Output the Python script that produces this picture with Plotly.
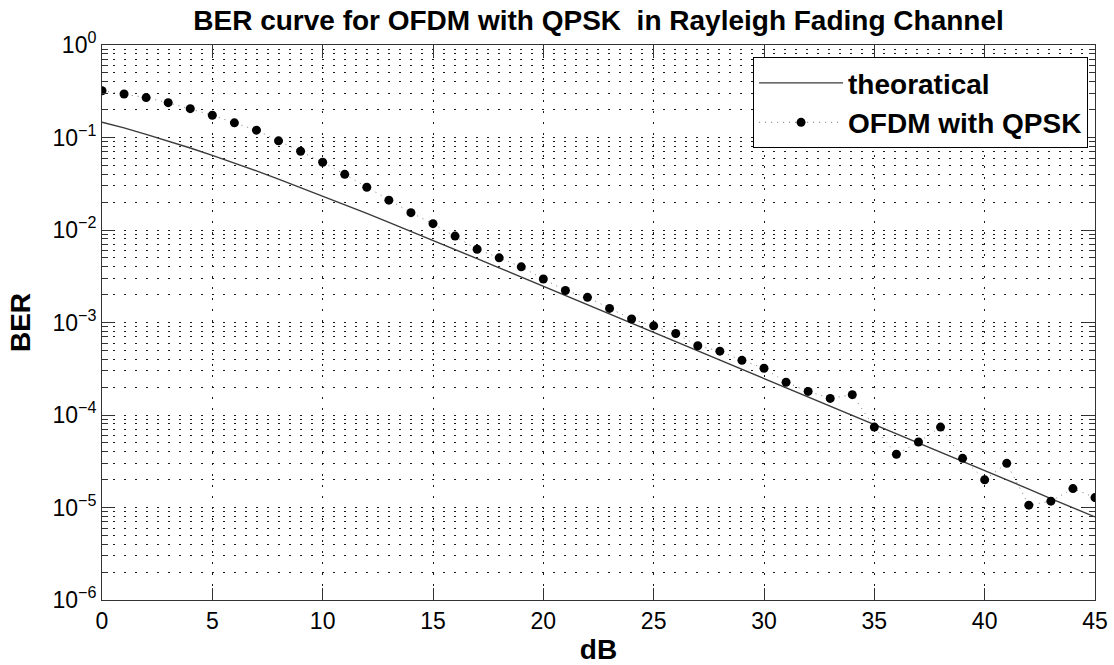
import plotly.graph_objects as go

# ---- data ----
snr_db = list(range(46))

ber_theory = [0.146, 0.127, 0.108, 0.092, 0.077, 0.064, 0.053, 0.0435, 0.0355, 0.0288,
              0.0233, 0.0187, 0.0151, 0.0121, 0.0097, 0.0077, 0.0062, 0.0049, 0.0039, 0.0031,
              0.0025, 0.00197, 0.00157, 0.00125, 0.00099, 0.00079, 0.00063, 0.0005, 0.0004, 0.000315,
              0.00025, 0.000198, 0.000158, 0.000125, 0.0000995, 0.000079, 0.0000628, 0.0000499, 0.0000396, 0.0000315,
              0.000025, 0.0000199, 0.0000158, 0.0000125, 0.00000995, 0.0000079]

ber_ofdm = [0.32, 0.295, 0.27, 0.238, 0.205, 0.174, 0.144, 0.12, 0.092, 0.071,
            0.054, 0.040, 0.029, 0.021, 0.0154, 0.0117, 0.0086, 0.0062, 0.0050, 0.0040,
            0.00295, 0.00222, 0.00187, 0.00142, 0.00109, 0.00092, 0.00076, 0.00056, 0.00049, 0.00039,
            0.00032, 0.000226, 0.00018, 0.000151, 0.000166, 0.000074, 0.0000376, 0.000051, 0.000074, 0.000034,
            0.0000199, 0.000030, 0.0000106, 0.0000117, 0.000016, 0.0000128]

x_ticks = [0, 5, 10, 15, 20, 25, 30, 35, 40, 45]
y_tickvals = [1, 1e-1, 1e-2, 1e-3, 1e-4, 1e-5, 1e-6]
y_ticktext = ["10<sup>0</sup>", "10<sup>\u22121</sup>", "10<sup>\u22122</sup>", "10<sup>\u22123</sup>",
              "10<sup>\u22124</sup>", "10<sup>\u22125</sup>", "10<sup>\u22126</sup>"]

title_text = "BER curve for OFDM with QPSK \u00a0in Rayleigh Fading Channel"

FONT = "Liberation Sans, Arial, sans-serif"
GRID_DASH = "2px,9px"
GRID_COLOR = "#1a1a1a"

fig = go.Figure()
fig.add_trace(go.Scatter(
    x=snr_db, y=ber_theory, mode="lines", name="theoratical",
    line=dict(color="#3a3a3a", width=1.4),
))
fig.add_trace(go.Scatter(
    x=snr_db, y=ber_ofdm, mode="lines+markers", name="OFDM with QPSK",
    line=dict(color="#7a7a7a", width=1, dash="1px,5px"),
    marker=dict(color="black", size=9, symbol="circle"),
))

fig.update_layout(
    width=1114, height=665,
    margin=dict(l=102, r=19, t=45, b=65),
    paper_bgcolor="white", plot_bgcolor="white",
    font=dict(family=FONT, color="black", size=23),
    title=dict(text="<b>" + title_text + "</b>", x=0.5, xref="paper", xanchor="center",
               y=0.97, yref="container", yanchor="middle",
               font=dict(size=28, family=FONT, color="black")),
    legend=dict(x=0.993, y=0.978, xanchor="right", yanchor="top",
                bgcolor="white", bordercolor="black", borderwidth=1,
                font=dict(size=28, family=FONT, color="black", weight="bold"),
                itemwidth=84, tracegroupgap=0),
    showlegend=True,
)

fig.update_xaxes(
    range=[0, 45], tickmode="array", tickvals=x_ticks,
    ticks="inside", ticklen=12, tickcolor="#333333",
    showline=True, linecolor="#333333", linewidth=1, mirror="ticks",
    showgrid=True, gridcolor=GRID_COLOR, gridwidth=1, griddash=GRID_DASH,
    zeroline=False, automargin=False,
    tickfont=dict(size=23, family=FONT, color="black"),
    title=dict(text="<b>dB</b>", font=dict(size=28, family=FONT, color="black"), standoff=8),
)

fig.update_yaxes(
    type="log", range=[-6, 0], tickmode="array", tickvals=y_tickvals, ticktext=y_ticktext,
    ticks="inside", ticklen=12, tickcolor="#333333",
    showline=True, linecolor="#333333", linewidth=1, mirror="ticks",
    showgrid=True, gridcolor=GRID_COLOR, gridwidth=1, griddash=GRID_DASH,
    minor=dict(dtick="D1", ticks="inside", ticklen=6, tickcolor="#333333", showgrid=True,
               gridcolor=GRID_COLOR, gridwidth=1, griddash=GRID_DASH),
    zeroline=False, automargin=False,
    tickfont=dict(size=23, family=FONT, color="black"),
    title=dict(text="<b>BER</b>", font=dict(size=28, family=FONT, color="black"), standoff=13),
)

fig.write_html("out.html")
